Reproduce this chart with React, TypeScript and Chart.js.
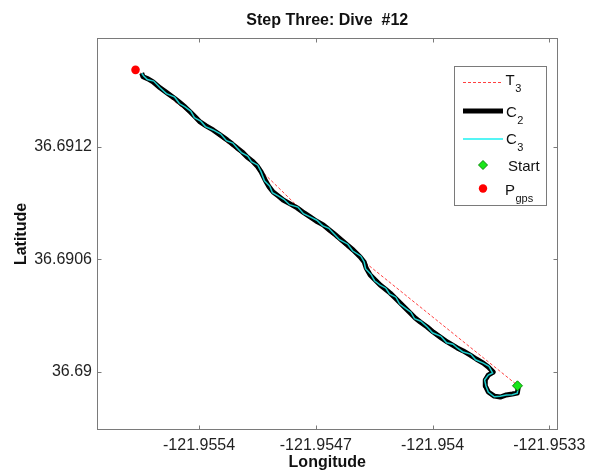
import React, { useEffect, useRef } from 'react';
import { Chart, registerables } from 'chart.js';

Chart.register(...registerables);

// Dive track C2, from the GPS end down to the start point
const trackLon = [
  -121.955744, -121.955736, -121.955706, -121.955676, -121.955634, -121.955592, -121.95555, -121.955514,
  -121.955484, -121.955454, -121.955424, -121.955394, -121.955358, -121.955316, -121.955274, -121.955232,
  -121.955202, -121.955172, -121.955142, -121.955112, -121.955082, -121.955052, -121.955028, -121.955004,
  -121.95498, -121.954956, -121.954926, -121.954896, -121.954854, -121.954812, -121.95477, -121.954734,
  -121.954698, -121.954656, -121.954626, -121.954596, -121.954554, -121.954512, -121.954476, -121.954434,
  -121.95441, -121.954398, -121.954374, -121.954344, -121.954314, -121.954284, -121.954254, -121.954224,
  -121.954194, -121.954164, -121.954134, -121.954104, -121.954074, -121.954032, -121.953996, -121.953954,
  -121.953912, -121.953882, -121.953852, -121.953816, -121.953774, -121.953738, -121.953696, -121.953666,
  -121.953636, -121.953666, -121.953684, -121.953684, -121.953666, -121.95363, -121.953594, -121.953558,
  -121.953522, -121.953492, -121.953486,
];
const trackLat = [
  36.691594, 36.691575, 36.691564, 36.691548, 36.691516, 36.691489, 36.691462, 36.691436,
  36.691414, 36.691388, 36.691361, 36.691334, 36.691313, 36.691291, 36.691265, 36.691238,
  36.691217, 36.691195, 36.691174, 36.691147, 36.691126, 36.691099, 36.691067, 36.691024,
  36.690987, 36.69096, 36.690939, 36.690917, 36.690896, 36.690875, 36.690848, 36.690827,
  36.690805, 36.690784, 36.690762, 36.690741, 36.690709, 36.690677, 36.69065, 36.690613,
  36.690586, 36.690554, 36.690517, 36.69049, 36.690463, 36.690442, 36.69042, 36.690394,
  36.690367, 36.69034, 36.690314, 36.690287, 36.690266, 36.690239, 36.690212, 36.690185,
  36.690159, 36.690143, 36.690127, 36.690111, 36.690089, 36.690068, 36.690046, 36.690025,
  36.689998, 36.689982, 36.689956, 36.689924, 36.689892, 36.68987, 36.689865, 36.689876,
  36.689881, 36.689886, 36.689918,
];

// Track C3 (noisier estimate of the same dive)
const c3Lon = [
  -121.955744, -121.955732, -121.95571, -121.955672, -121.955634, -121.955596, -121.955546, -121.955518,
  -121.955484, -121.95545, -121.955428, -121.95539, -121.955362, -121.955316, -121.95527, -121.955236,
  -121.955198, -121.955172, -121.955146, -121.955108, -121.955086, -121.955048, -121.955028, -121.955008,
  -121.954976, -121.95496, -121.954926, -121.954892, -121.954858, -121.954808, -121.954774, -121.954734,
  -121.954694, -121.95466, -121.954622, -121.954596, -121.954558, -121.954508, -121.95448, -121.95443,
  -121.95441, -121.954402, -121.95437, -121.954348, -121.954314, -121.95428, -121.954258, -121.95422,
  -121.954198, -121.954164, -121.95413, -121.954108, -121.95407, -121.954032, -121.954, -121.95395,
  -121.953916, -121.953878, -121.953852, -121.95382, -121.95377, -121.953742, -121.953696, -121.953662,
  -121.95364, -121.953666, -121.953688, -121.95368, -121.953666, -121.95363, -121.953594, -121.953558,
  -121.953522, -121.953492, -121.953486,
];
const c3Lat = [
  36.691594, 36.691579, 36.69156, 36.691552, 36.691516, 36.691485, 36.691466, 36.691432,
  36.691414, 36.691392, 36.691357, 36.691338, 36.691309, 36.691291, 36.691269, 36.691234,
  36.691221, 36.691195, 36.69117, 36.691151, 36.691122, 36.691103, 36.691067, 36.69102,
  36.690991, 36.690956, 36.690939, 36.690921, 36.690892, 36.690879, 36.690844, 36.690827,
  36.690809, 36.69078, 36.690766, 36.690741, 36.690705, 36.690681, 36.690646, 36.690617,
  36.690586, 36.69055, 36.690521, 36.690486, 36.690463, 36.690446, 36.690416, 36.690398,
  36.690363, 36.69034, 36.690318, 36.690283, 36.69027, 36.690239, 36.690208, 36.690189,
  36.690155, 36.690147, 36.690127, 36.690107, 36.690093, 36.690064, 36.690046, 36.690029,
  36.689994, 36.689982, 36.689956, 36.689924, 36.689892, 36.689866, 36.689869, 36.689876,
  36.689877, 36.689886, 36.689918,
];

// Planned trajectory T3
const t3Lon = [-121.955754, -121.955514, -121.955076, -121.954824, -121.954386, -121.953486];
const t3Lat = [36.691596, 36.69142, 36.691115, 36.690896, 36.69057, 36.689924];

const startLon = [-121.953491];
const startLat = [36.689925];
const gpsLon = [-121.955781];
const gpsLat = [36.691612];

const xTicks = [-121.9554, -121.9547, -121.954, -121.9533];
const xTickLabels = ['-121.9554', '-121.9547', '-121.954', '-121.9533'];
const yTicks = [36.69, 36.6906, 36.6912];
const yTickLabels = ['36.69', '36.6906', '36.6912'];
const xRange = [-121.956012, -121.953251];
const yRange = [36.689689, 36.691782];

const titleText = 'Step Three: Dive  #12';
const xTitle = 'Longitude';
const yTitle = 'Latitude';

const FONT = "'Liberation Sans', Arial, Helvetica, sans-serif";
const FRAME = '#7a7a7a';

const toPts = (xs: number[], ys: number[]) => xs.map((x, i) => ({ x, y: ys[i] }));

const overlay = {
  id: 'overlay',
  afterDraw(chart: any) {
    const { ctx, chartArea: a, scales } = chart;
    ctx.save();
    const x0 = Math.round(a.left) + 0.5;
    const x1 = Math.round(a.right) - 0.5;
    const y0 = Math.round(a.top) + 0.5;
    const y1 = Math.round(a.bottom) - 0.5;
    ctx.strokeStyle = FRAME;
    ctx.lineWidth = 1;
    ctx.setLineDash([]);
    ctx.strokeRect(x0, y0, x1 - x0, y1 - y0);
    const tl = 4;
    ctx.beginPath();
    xTicks.forEach((v) => {
      const p = Math.round(scales.x.getPixelForValue(v)) + 0.5;
      ctx.moveTo(p, y1); ctx.lineTo(p, y1 - tl);
      ctx.moveTo(p, y0); ctx.lineTo(p, y0 + tl);
    });
    yTicks.forEach((v) => {
      const p = Math.round(scales.y.getPixelForValue(v)) + 0.5;
      ctx.moveTo(x0, p); ctx.lineTo(x0 + tl, p);
      ctx.moveTo(x1, p); ctx.lineTo(x1 - tl, p);
    });
    ctx.stroke();

    // titles
    ctx.fillStyle = '#111';
    ctx.font = `bold 16px ${FONT}`;
    ctx.textAlign = 'center';
    ctx.textBaseline = 'alphabetic';
    const cx = (a.left + a.right) / 2;
    ctx.fillText(titleText, cx, 25);
    ctx.fillText(xTitle, cx, 467);
    ctx.save();
    ctx.translate(26, (a.top + a.bottom) / 2);
    ctx.rotate(-Math.PI / 2);
    ctx.fillText(yTitle, 0, 0);
    ctx.restore();

    // legend
    const lx = 454.5, ly = 66.5, lw = 92, lh = 139;
    ctx.fillStyle = '#fff';
    ctx.fillRect(lx, ly, lw, lh);
    ctx.strokeStyle = FRAME;
    ctx.strokeRect(lx, ly, lw, lh);
    const sx0 = 463, sx1 = 503;
    // T3
    ctx.strokeStyle = 'rgba(255,0,0,0.75)';
    ctx.lineWidth = 1;
    ctx.setLineDash([3, 2]);
    ctx.beginPath(); ctx.moveTo(sx0, 82.5); ctx.lineTo(sx1, 82.5); ctx.stroke();
    ctx.setLineDash([]);
    // C2
    ctx.strokeStyle = '#000';
    ctx.lineWidth = 5;
    ctx.beginPath(); ctx.moveTo(sx0, 111); ctx.lineTo(sx1, 111); ctx.stroke();
    // C3
    ctx.strokeStyle = '#55f5f5';
    ctx.lineWidth = 2;
    ctx.beginPath(); ctx.moveTo(sx0, 139); ctx.lineTo(sx1, 139); ctx.stroke();
    // Start diamond
    ctx.fillStyle = '#19e619';
    ctx.strokeStyle = '#0a8a0a';
    ctx.lineWidth = 1;
    ctx.beginPath();
    ctx.moveTo(483, 160.5); ctx.lineTo(487.5, 165); ctx.lineTo(483, 169.5); ctx.lineTo(478.5, 165); ctx.closePath();
    ctx.fill(); ctx.stroke();
    // Pgps circle
    ctx.fillStyle = '#ff0000';
    ctx.beginPath(); ctx.arc(483, 188.5, 4.2, 0, Math.PI * 2); ctx.fill();

    // legend labels
    ctx.fillStyle = '#111';
    ctx.textAlign = 'left';
    ctx.textBaseline = 'alphabetic';
    const main = `15px ${FONT}`;
    const sub = `11px ${FONT}`;
    const drawSub = (m: string, s: string, x: number, y: number) => {
      ctx.font = main;
      ctx.fillText(m, x, y);
      const w = ctx.measureText(m).width;
      ctx.font = sub;
      ctx.fillText(s, x + w + 0.5, y + 7);
    };
    drawSub('T', '3', 505.5, 85);
    drawSub('C', '2', 506, 116.5);
    drawSub('C', '3', 506, 143.5);
    ctx.font = main;
    ctx.fillText('Start', 508, 170.5);
    drawSub('P', 'gps', 505, 194.5);
    ctx.restore();
  },
};

export default function App() {
  const ref = useRef<HTMLCanvasElement | null>(null);
  useEffect(() => {
    if (!ref.current) return;
    const chart = new Chart(ref.current, {
      type: 'scatter',
      data: {
        datasets: [
          {
            label: 'T3',
            order: 5,
            data: toPts(t3Lon, t3Lat),
            showLine: true,
            borderColor: 'rgba(255,0,0,0.75)',
            borderWidth: 1,
            borderDash: [3, 2],
            pointRadius: 0,
            fill: false,
          } as any,
          {
            label: 'C2',
            order: 4,
            data: toPts(trackLon, trackLat),
            showLine: true,
            borderColor: '#000',
            borderWidth: 5,
            borderJoinStyle: 'round',
            pointRadius: 0,
            fill: false,
          },
          {
            label: 'C3',
            order: 3,
            data: toPts(c3Lon, c3Lat),
            showLine: true,
            borderColor: '#1ccccc',
            borderWidth: 1.5,
            pointRadius: 0,
            fill: false,
          },
          {
            label: 'Start',
            order: 2,
            data: toPts(startLon, startLat),
            pointStyle: 'rectRot',
            pointRadius: 5,
            backgroundColor: '#19e619',
            borderColor: '#0a8a0a',
            borderWidth: 1,
          },
          {
            label: 'Pgps',
            order: 1,
            data: toPts(gpsLon, gpsLat),
            pointStyle: 'circle',
            pointRadius: 4.3,
            backgroundColor: '#ff0000',
            borderColor: '#ff0000',
            borderWidth: 0,
          },
        ],
      },
      options: {
        responsive: false,
        animation: false,
        devicePixelRatio: 1,
        layout: { padding: { left: 0, right: 34.5, top: 38, bottom: 0 } },
        plugins: { legend: { display: false }, tooltip: { enabled: false }, title: { display: false } },
        scales: {
          x: {
            type: 'linear',
            min: xRange[0],
            max: xRange[1],
            grid: { display: false, drawTicks: false },
            border: { display: false },
            afterFit: (s: any) => { s.height = 44; },
            afterBuildTicks: (s: any) => { s.ticks = xTicks.map((v) => ({ value: v })); },
            ticks: {
              autoSkip: false,
              maxRotation: 0,
              padding: 6,
              color: '#222',
              font: { family: FONT, size: 16 },
              callback: (v: any) => { const i = xTicks.indexOf(Number(v)); return i >= 0 ? xTickLabels[i] : ''; },
            },
          },
          y: {
            type: 'linear',
            min: yRange[0],
            max: yRange[1],
            grid: { display: false, drawTicks: false },
            border: { display: false },
            afterFit: (s: any) => { s.width = 97; },
            afterBuildTicks: (s: any) => { s.ticks = yTicks.map((v) => ({ value: v })); },
            ticks: {
              autoSkip: false,
              padding: 5,
              color: '#222',
              font: { family: FONT, size: 16 },
              callback: (v: any) => { const i = yTicks.indexOf(Number(v)); return i >= 0 ? yTickLabels[i] : ''; },
            },
          },
        },
      },
      plugins: [overlay],
    });
    return () => chart.destroy();
  }, []);
  return (
    <div style={{ position: 'absolute', left: 0, top: 0, width: 592, height: 474, background: '#fff' }}>
      <canvas ref={ref} width={592} height={474} style={{ display: 'block' }} />
    </div>
  );
}
